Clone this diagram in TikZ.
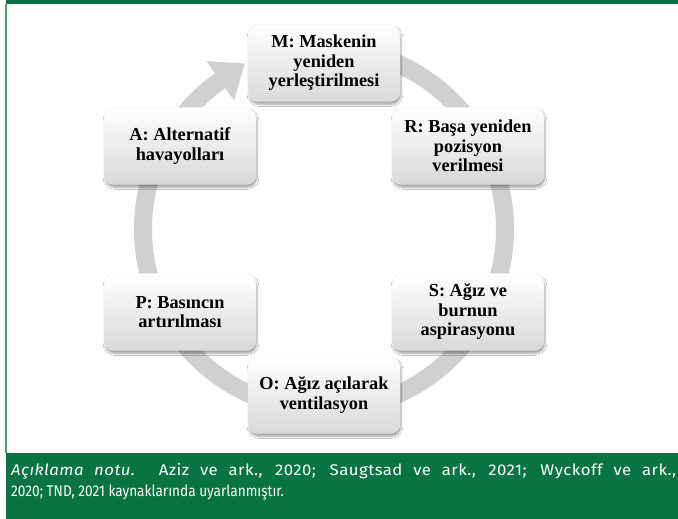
\documentclass[tikz,border=0pt]{standalone}
\usepackage{fontspec}
\setmainfont{Liberation Serif}
\newfontfamily\capfont[FakeStretch=0.88]{Fira Sans}
\newfontfamily\capfontwide[FakeStretch=1.08,LetterSpace=3]{Fira Sans}
\usetikzlibrary{calc,shadows.blur}
\definecolor{tgreen}{RGB}{8,116,66}
\definecolor{edgegreen}{RGB}{80,155,112}
\definecolor{ringgray}{RGB}{208,208,208}
\tikzset{
  stagebox/.style={rounded corners=10pt, minimum width=152pt, minimum height=77pt,
    inner sep=2pt, align=center, top color=white, bottom color=black!15,
    draw=black!8, font=\bfseries\fontsize{18.3}{19.5}\selectfont,
    blur shadow={shadow xshift=1pt, shadow yshift=-3pt, shadow opacity=35, shadow blur steps=6}},
  ring/.style={draw=ringgray, line width=18pt},
  captext/.style={text=white, inner sep=0pt, anchor=base west,
    font=\capfont\fontsize{15.5}{21}\selectfont}
}
\begin{document}
\begin{tikzpicture}[x=1pt,y=1pt]
  \useasboundingbox (0,0) rectangle (678,519);
  % frame
  \fill[white] (0,0) rectangle (678,519);
  \fill[tgreen] (6,515) rectangle (678,519);
  \fill[tgreen] (6,0) rectangle (678,66);
  \fill[edgegreen] (5,66) rectangle (7,515);

  % circular arrow behind the stages
  \coordinate (ctr) at (324,290);
  \draw[ring] ($(ctr)+(90:181)$) arc[start angle=90, end angle=-235, radius=181];
  \fill[ringgray] ($(ctr)+(125:205)$) -- ($(ctr)+(125:157)$)
     -- ($(ctr)+(125:181)+(35:30)$) -- cycle;

  % stages
  \node[stagebox] (m) at (324,456) {M: Maskenin\\yeniden\\yerleştirilmesi};
  \node[stagebox] (r) at (468,373) {R: Başa yeniden\\pozisyon\\verilmesi};
  \node[stagebox] (s) at (468,207) {S: Ağız ve\\burnun\\aspirasyonu};
  \node[stagebox] (o) at (324,124) {O: Ağız açılarak\\ventilasyon};
  \node[stagebox] (p) at (180,207) {P: Basıncın\\artırılması};
  \node[stagebox] (a) at (180,373) {A: Alternatif\\havayolları};

  % note (first line justified to the full width)
  \node[captext] (n1) at (11,43) {\capfontwide\makebox[665pt][s]{{\itshape Açıklama notu}. Aziz ve ark., 2020; Saugtsad ve ark., 2021; Wyckoff ve ark.,}};
  \node[captext] (n2) at (11,22) {2020; TND, 2021 kaynaklarında uyarlanmıştır.};
\end{tikzpicture}
\end{document}
